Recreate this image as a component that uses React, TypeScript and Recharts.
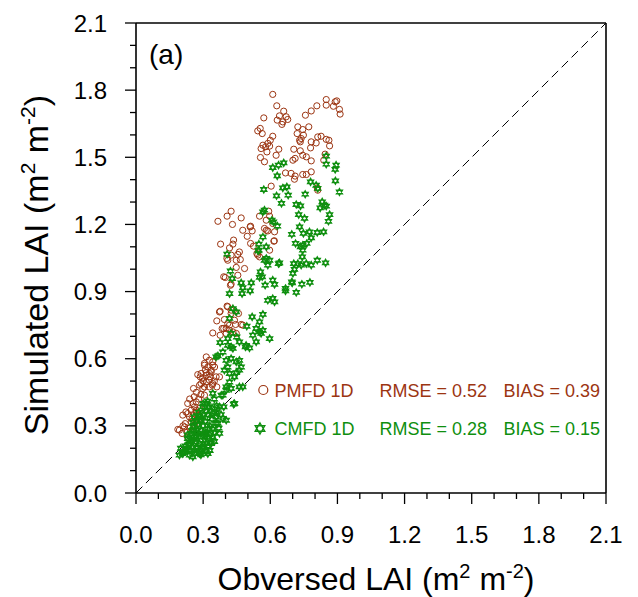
import React from 'react'
import { ScatterChart, Scatter, XAxis, YAxis, ReferenceLine, Customized } from 'recharts'

const pmfdObs = [
  0.611, 0.629, 0.66, 0.641, 0.671, 0.631, 0.656, 0.678, 0.652, 0.571, 0.757, 0.783, 0.808, 0.85, 0.85, 0.89, 0.897, 0.882,
  0.909, 0.912, 0.544, 0.555, 0.564, 0.723, 0.745, 0.772, 0.72, 0.731, 0.738, 0.734, 0.748, 0.783, 0.812, 0.827, 0.85, 0.862,
  0.865, 0.805, 0.78, 0.611, 0.6, 0.589, 0.567, 0.559, 0.579, 0.597, 0.585, 0.556, 0.574, 0.638, 0.626, 0.705, 0.734, 0.745,
  0.761, 0.783, 0.701, 0.711, 0.845, 0.839, 0.668, 0.693, 0.711, 0.745, 0.761, 0.783, 0.708, 0.604, 0.81, 0.812,
  0.366, 0.407, 0.425, 0.431, 0.47, 0.552, 0.593, 0.597, 0.582, 0.611, 0.574, 0.619, 0.51, 0.477, 0.497, 0.512, 0.519, 0.582,
  0.589, 0.616, 0.597, 0.378, 0.418, 0.436, 0.433, 0.425, 0.41, 0.448, 0.462, 0.485, 0.512, 0.525, 0.54, 0.618, 0.544, 0.552,
  0.406, 0.455, 0.466, 0.448, 0.392, 0.399, 0.425, 0.455, 0.422, 0.376, 0.41, 0.425, 0.361, 0.395, 0.385, 0.403, 0.418, 0.343,
  0.376, 0.445, 0.47, 0.407, 0.373, 0.425, 0.458, 0.44, 0.477, 0.392, 0.418, 0.403, 0.433, 0.448, 0.41,
  0.314, 0.328, 0.343, 0.321, 0.306, 0.351, 0.336, 0.291, 0.314, 0.276, 0.328, 0.306, 0.343, 0.287, 0.298, 0.336, 0.358, 0.314,
  0.341, 0.257, 0.284, 0.306, 0.328, 0.361, 0.254, 0.261, 0.247, 0.269, 0.231, 0.239, 0.209, 0.276, 0.247, 0.217, 0.194, 0.206,
  0.227, 0.261, 0.269, 0.284, 0.187, 0.231, 0.223, 0.261, 0.314, 0.328, 0.298, 0.343, 0.373, 0.306, 0.291,
  0.24, 0.26, 0.25, 0.28, 0.27, 0.29, 0.33, 0.35, 0.31, 0.3, 0.27, 0.22, 0.21, 0.24, 0.23, 0.25, 0.28,
]
const pmfdSim = [
  1.781, 1.73, 1.706, 1.685, 1.681, 1.666, 1.658, 1.669, 1.647, 1.676, 1.688, 1.707, 1.73, 1.758, 1.733, 1.748, 1.752, 1.728,
  1.714, 1.693, 1.618, 1.629, 1.606, 1.636, 1.624, 1.636, 1.606, 1.576, 1.584, 1.569, 1.599, 1.569, 1.591, 1.594, 1.58, 1.576,
  1.551, 1.564, 1.542, 1.594, 1.576, 1.562, 1.554, 1.539, 1.547, 1.55, 1.524, 1.499, 1.48, 1.536, 1.509, 1.536, 1.529, 1.509,
  1.502, 1.484, 1.487, 1.495, 1.514, 1.487, 1.43, 1.428, 1.416, 1.423, 1.423, 1.435, 1.402, 1.371, 1.363, 1.353,
  1.214, 1.237, 1.259, 1.2, 1.229, 1.237, 1.259, 1.237, 1.219, 1.204, 1.182, 1.167, 1.189, 1.174, 1.147, 1.192, 1.171, 1.174,
  1.171, 1.125, 1.085, 1.112, 1.095, 1.13, 1.112, 1.063, 1.04, 1.04, 1.077, 1.003, 1.115, 1.103, 1.07, 1.127, 1.063, 1.055,
  1.048, 1.066, 1.043, 1.008, 0.966, 0.963, 0.933, 0.973, 0.928, 0.812, 0.832, 0.817, 0.769, 0.775, 0.735, 0.735, 0.75, 0.715,
  0.705, 0.753, 0.753, 0.835, 0.809, 0.802, 0.802, 0.772, 0.75, 0.735, 0.727, 0.713, 0.72, 0.713, 0.757,
  0.608, 0.593, 0.586, 0.563, 0.571, 0.563, 0.549, 0.534, 0.538, 0.529, 0.534, 0.579, 0.571, 0.519, 0.512, 0.541, 0.519, 0.496,
  0.482, 0.467, 0.482, 0.474, 0.474, 0.474, 0.4, 0.385, 0.37, 0.362, 0.355, 0.34, 0.348, 0.348, 0.318, 0.295, 0.281, 0.266,
  0.273, 0.303, 0.407, 0.378, 0.284, 0.4, 0.362, 0.355, 0.526, 0.504, 0.467, 0.489, 0.519, 0.437, 0.489,
  0.42, 0.43, 0.33, 0.42, 0.45, 0.44, 0.52, 0.5, 0.55, 0.5, 0.37, 0.31, 0.3, 0.29, 0.25, 0.27, 0.31,
]

const cmfdObs = [
  0.85, 0.85, 0.894, 0.89, 0.891, 0.909, 0.611, 0.637, 0.66, 0.631, 0.571, 0.656, 0.674, 0.628, 0.68, 0.65, 0.78, 0.805, 0.812,
  0.756, 0.716, 0.735, 0.832, 0.823, 0.85, 0.865, 0.86, 0.727, 0.753, 0.731, 0.696, 0.748, 0.775, 0.81, 0.838, 0.783, 0.567,
  0.607, 0.614, 0.632, 0.567, 0.546, 0.582, 0.637, 0.597, 0.589, 0.556, 0.611, 0.577, 0.619, 0.515, 0.47, 0.51, 0.418, 0.422,
  0.407, 0.668, 0.716, 0.696, 0.741, 0.777, 0.705, 0.743, 0.735, 0.745, 0.763, 0.723, 0.761, 0.783, 0.81, 0.847, 0.842, 0.713,
  0.745, 0.738, 0.708, 0.701, 0.698, 0.641, 0.668, 0.43, 0.574, 0.549, 0.549, 0.582, 0.574, 0.564, 0.552,
  0.477, 0.589, 0.611, 0.619, 0.433, 0.448, 0.418, 0.519, 0.552, 0.567, 0.495, 0.537, 0.552, 0.567, 0.522, 0.597, 0.425, 0.41,
  0.376, 0.45, 0.462, 0.425, 0.41, 0.433, 0.489, 0.507, 0.537, 0.388, 0.366, 0.358, 0.425, 0.403, 0.462, 0.448, 0.47, 0.41,
  0.395, 0.418, 0.448, 0.474, 0.559, 0.492, 0.477, 0.436, 0.462, 0.44, 0.418, 0.403, 0.388, 0.392, 0.373, 0.351, 0.388, 0.403,
  0.358, 0.328, 0.314, 0.306, 0.343, 0.269, 0.239, 0.209, 0.254, 0.291, 0.321, 0.336, 0.343, 0.381, 0.403, 0.425, 0.44, 0.462,
  0.314, 0.298, 0.328, 0.343, 0.358, 0.366, 0.373, 0.298, 0.284, 0.254, 0.224, 0.194, 0.239, 0.284, 0.314, 0.298, 0.269, 0.276,
  0.247, 0.231, 0.254, 0.291, 0.261,
  0.22, 0.25, 0.27, 0.3, 0.32, 0.35, 0.33, 0.31, 0.29, 0.26, 0.24, 0.28, 0.3, 0.32, 0.34, 0.36, 0.3, 0.27, 0.25, 0.23, 0.21,
  0.2, 0.26, 0.29, 0.33, 0.35, 0.37, 0.31, 0.34, 0.32, 0.35, 0.3, 0.28, 0.26, 0.36, 0.38, 0.33, 0.27, 0.23, 0.31,
  0.215, 0.235, 0.245, 0.265, 0.285, 0.305, 0.325, 0.345, 0.275, 0.295, 0.315, 0.255, 0.335, 0.305, 0.285,
]
const cmfdSim = [
  1.505, 1.469, 1.465, 1.446, 1.395, 1.345, 1.454, 1.465, 1.475, 1.417, 1.356, 1.363, 1.368, 1.328, 1.331, 1.294, 1.39, 1.375,
  1.361, 1.335, 1.289, 1.283, 1.301, 1.274, 1.282, 1.244, 1.214, 1.244, 1.227, 1.189, 1.156, 1.16, 1.167, 1.164, 1.167, 1.14,
  1.256, 1.219, 1.211, 1.193, 1.144, 1.082, 1.1, 1.025, 1.04, 1.018, 0.988, 0.951, 0.929, 0.932, 0.939, 0.939, 0.903, 0.891,
  0.992, 1.067, 0.903, 0.896, 0.943, 0.933, 0.941, 1.025, 1.055, 1.1, 1.107, 1.115, 1.025, 1.025, 1.018, 1.04, 1.028, 1.286,
  1.115, 1.085, 1.018, 0.999, 0.981, 0.939, 1.028, 0.914, 0.958, 1.264, 1.112, 1.085, 1.048, 1.04, 0.966, 0.963,
  0.917, 0.861, 0.869, 0.854, 0.824, 0.809, 0.78, 0.787, 0.765, 0.798, 0.745, 0.735, 0.72, 0.727, 0.705, 0.69, 0.713, 0.69,
  0.672, 0.697, 0.675, 0.653, 0.66, 0.646, 0.653, 0.648, 0.675, 0.63, 0.613, 0.608, 0.601, 0.593, 0.593, 0.586, 0.563, 0.563,
  0.549, 0.534, 0.538, 0.891, 0.713, 0.66, 0.474, 0.397, 0.549, 0.519, 0.496, 0.459, 0.437, 0.385, 0.385, 0.362, 0.333, 0.325,
  0.311, 0.288, 0.266, 0.236, 0.251, 0.251, 0.191, 0.176, 0.161, 0.191, 0.176, 0.221, 0.445, 0.437, 0.474, 0.467, 0.4, 0.474,
  0.4, 0.385, 0.385, 0.355, 0.34, 0.311, 0.266, 0.259, 0.221, 0.206, 0.191, 0.169, 0.169, 0.176, 0.184, 0.206, 0.228, 0.281,
  0.266, 0.243, 0.298, 0.325, 0.176,
  0.21, 0.23, 0.2, 0.22, 0.21, 0.27, 0.3, 0.32, 0.28, 0.24, 0.22, 0.25, 0.3, 0.35, 0.38, 0.36, 0.35, 0.32, 0.28, 0.2, 0.18,
  0.2, 0.19, 0.17, 0.19, 0.23, 0.29, 0.27, 0.33, 0.41, 0.42, 0.4, 0.36, 0.34, 0.39, 0.35, 0.26, 0.27, 0.26, 0.25,
  0.185, 0.215, 0.235, 0.255, 0.185, 0.205, 0.245, 0.285, 0.305, 0.335, 0.365, 0.315, 0.225, 0.265, 0.345,
]

const allTicks = [0, 0.1, 0.2, 0.3, 0.4, 0.5, 0.6, 0.7, 0.8, 0.9, 1.0, 1.1, 1.2, 1.3, 1.4, 1.5, 1.6, 1.7, 1.8, 1.9, 2.0, 2.1]
const majorTicks = [0, 0.3, 0.6, 0.9, 1.2, 1.5, 1.8, 2.1]

const legendRows = [
  { name: 'PMFD 1D', rmse: '0.52', bias: '0.39' },
  { name: 'CMFD 1D', rmse: '0.28', bias: '0.15' },
]

const BROWN = '#9C3512'
const GREEN = '#0F8F0F'
const FONT = '"Liberation Sans", Arial, Helvetica, sans-serif'

const pmfd = pmfdObs.map((x, i) => ({ x, y: pmfdSim[i] }))
const cmfd = cmfdObs.map((x, i) => ({ x, y: cmfdSim[i] }))

const isMajor = (v: number) => majorTicks.some((m) => Math.abs(m - v) < 1e-6)

const starPath = (cx: number, cy: number, r: number) => {
  const h = r * 0.866
  return (
    `M${cx},${cy - r}L${cx + h},${cy + r / 2}L${cx - h},${cy + r / 2}Z` +
    `M${cx},${cy + r}L${cx + h},${cy - r / 2}L${cx - h},${cy - r / 2}Z`
  )
}

const CircleMark = (props: any) => (
  <circle cx={props.cx} cy={props.cy} r={3.1} fill="none" stroke={BROWN} strokeWidth={1} />
)

const StarMark = (props: any) => (
  <path d={starPath(props.cx, props.cy, 3.5)} fill="none" stroke={GREEN} strokeWidth={1.3} />
)

const XTick = (props: any) => {
  const { x, y, payload } = props
  const major = isMajor(payload.value)
  return (
    <g>
      <line x1={x} y1={y} x2={x} y2={y + (major ? 11 : 6)} stroke="#000" strokeWidth={1.3} />
      {major ? (
        <text x={x} y={y + 50} textAnchor="middle" fontSize={24} fontFamily={FONT} fill="#000">
          {payload.value.toFixed(1)}
        </text>
      ) : null}
    </g>
  )
}

const YTick = (props: any) => {
  const { x, y, payload } = props
  const major = isMajor(payload.value)
  return (
    <g>
      <line x1={x} y1={y} x2={x - (major ? 11 : 6)} y2={y} stroke="#000" strokeWidth={1.3} />
      {major ? (
        <text x={x - 29} y={y + 8.5} textAnchor="end" fontSize={24} fontFamily={FONT} fill="#000">
          {payload.value.toFixed(1)}
        </text>
      ) : null}
    </g>
  )
}

const Overlay = () => (
  <g fontFamily={FONT}>
    <text x={149} y={64} fontSize={28} fill="#000">(a)</text>
    <text x={376} y={590} fontSize={32} textAnchor="middle" fill="#000">
      Obversed LAI (m<tspan dy={-12} fontSize={20}>2</tspan>
      <tspan dy={12}> m</tspan>
      <tspan dy={-12} fontSize={20}>-2</tspan>
      <tspan dy={12}>)</tspan>
    </text>
    <text x={48} y={265} fontSize={34} textAnchor="middle" fill="#000" transform="rotate(-90 48 265)">
      Simulated LAI (m<tspan dy={-13} fontSize={21}>2</tspan>
      <tspan dy={13}> m</tspan>
      <tspan dy={-13} fontSize={21}>-2</tspan>
      <tspan dy={13}>)</tspan>
    </text>
    <circle cx={263.3} cy={390} r={4.5} fill="none" stroke={BROWN} strokeWidth={1.2} />
    <path d={starPath(260, 428.5, 5.5)} fill="none" stroke={GREEN} strokeWidth={1.4} />
    {legendRows.map((r, i) => {
      const base = 396.7 + i * 38.3
      const color = i === 0 ? BROWN : GREEN
      return (
        <g key={r.name} fontSize={18} fill={color}>
          <text x={274.5} y={base}>{r.name}</text>
          <text x={379.5} y={base}>RMSE = {r.rmse}</text>
          <text x={503.5} y={base}>BIAS = {r.bias}</text>
        </g>
      )
    })}
  </g>
)

export default function App() {
  return (
    <div style={{ position: 'absolute', left: 0, top: 0, width: 638, height: 597, background: '#fff' }}>
      <ScatterChart width={638} height={597} margin={{ top: 23, right: 32, left: 0, bottom: 0 }}>
        <XAxis
          type="number"
          dataKey="x"
          domain={[0, 2.1]}
          ticks={allTicks}
          interval={0}
          height={104}
          tickSize={0}
          tickMargin={0}
          tick={<XTick />}
          axisLine={{ stroke: '#000', strokeWidth: 1.6 }}
          allowDataOverflow
        />
        <YAxis
          type="number"
          dataKey="y"
          domain={[0, 2.1]}
          ticks={allTicks}
          interval={0}
          width={136}
          tickSize={0}
          tickMargin={0}
          tick={<YTick />}
          axisLine={{ stroke: '#000', strokeWidth: 1.6 }}
          allowDataOverflow
        />
        <ReferenceLine y={2.1} stroke="#000" strokeWidth={1.6} />
        <ReferenceLine x={2.1} stroke="#000" strokeWidth={1.6} />
        <ReferenceLine
          segment={[{ x: 0, y: 0 }, { x: 2.1, y: 2.1 }]}
          stroke="#000"
          strokeWidth={1}
          strokeDasharray="9 5"
        />
        <Scatter name="PMFD 1D" data={pmfd} shape={<CircleMark />} isAnimationActive={false} />
        <Scatter name="CMFD 1D" data={cmfd} shape={<StarMark />} isAnimationActive={false} />
        <Customized component={Overlay} />
      </ScatterChart>
    </div>
  )
}
